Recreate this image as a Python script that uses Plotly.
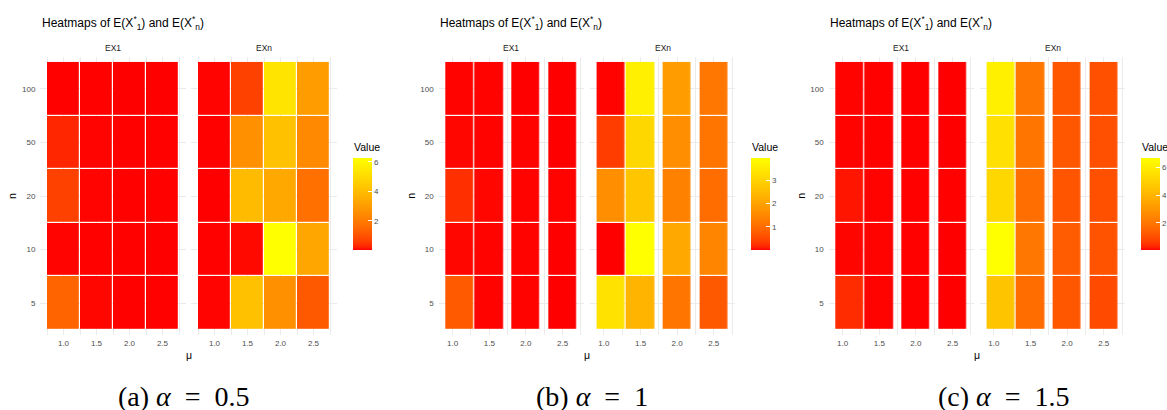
import numpy as np
import plotly.graph_objects as go

# ---------------- data ----------------
n_labels = ["5", "10", "20", "50", "100"]          # rows, bottom -> top
mu_a = [1.0, 1.5, 2.0, 2.5]                         # panel (a)
mu_b = [1.1, 1.5, 2.0, 2.5]                         # panel (b)
mu_c = [1.1, 1.5, 2.0, 2.5]                         # panel (c)
x_tick_vals = [1.0, 1.5, 2.0, 2.5]
x_tick_text = ["1.0", "1.5", "2.0", "2.5"]
facets = ["EX1", "EXn"]
captions = ["(a) <i>α</i>\u2002=\u20020.5", "(b) <i>α</i>\u2002=\u20021", "(c) <i>α</i>\u2002=\u20021.5"]

# rows: n = 5, 10, 20, 50, 100 ; columns: mu
EX1_a = [[1.40, 0.06, 0.04, 0.04],
         [0.05, 0.04, 0.04, 0.03],
         [0.65, 0.05, 0.04, 0.04],
         [0.28, 0.05, 0.04, 0.04],
         [0.04, 0.04, 0.03, 0.03]]
EXn_a = [[0.05, 4.15, 2.65, 1.15],
         [0.04, 0.08, 6.27, 3.34],
         [0.03, 3.96, 3.40, 1.70],
         [0.04, 2.65, 4.15, 2.40],
         [0.05, 0.65, 5.33, 2.99]]

EX1_b = [[0.73, 0.02, 0.02, 0.01],
         [0.03, 0.02, 0.02, 0.01],
         [0.23, 0.03, 0.02, 0.02],
         [0.03, 0.02, 0.02, 0.01],
         [0.02, 0.02, 0.01, 0.01]]
EXn_b = [[3.32, 2.36, 1.16, 0.72],
         [0.01, 3.95, 2.12, 1.44],
         [1.60, 2.72, 1.36, 1.00],
         [0.36, 3.08, 1.60, 1.16],
         [0.02, 3.60, 1.90, 1.20]]

EX1_c = [[0.35, 0.04, 0.03, 0.02],
         [0.05, 0.04, 0.03, 0.02],
         [0.14, 0.04, 0.03, 0.03],
         [0.04, 0.03, 0.03, 0.02],
         [0.04, 0.03, 0.02, 0.02]]
EXn_c = [[4.56, 1.68, 1.15, 0.87],
         [6.70, 2.00, 1.27, 1.07],
         [5.23, 1.74, 1.12, 1.00],
         [5.56, 1.95, 1.15, 0.97],
         [6.16, 2.00, 1.15, 1.00]]

# ---------------- styling helpers ----------------
W, H = 1167, 410


def srgb_to_lab(c):
    c = np.array(c, float) / 255.0
    lin = np.where(c <= 0.04045, c / 12.92, ((c + 0.055) / 1.055) ** 2.4)
    M = np.array([[0.4124, 0.3576, 0.1805], [0.2126, 0.7152, 0.0722], [0.0193, 0.1192, 0.9505]])
    X, Y, Z = M @ lin
    X /= 0.95047; Z /= 1.08883
    f = lambda t: t ** (1 / 3) if t > 0.008856 else 7.787 * t + 16 / 116
    fx, fy, fz = f(X), f(Y), f(Z)
    return np.array([116 * fy - 16, 500 * (fx - fy), 200 * (fy - fz)])


def lab_to_srgb(lab):
    L, a, b = lab
    fy = (L + 16) / 116; fx = fy + a / 500; fz = fy - b / 200
    finv = lambda t: t ** 3 if t ** 3 > 0.008856 else (t - 16 / 116) / 7.787
    X, Y, Z = 0.95047 * finv(fx), finv(fy), 1.08883 * finv(fz)
    Minv = np.array([[3.2406, -1.5372, -0.4986], [-0.9689, 1.8758, 0.0415], [0.0557, -0.2040, 1.0570]])
    lin = np.clip(Minv @ np.array([X, Y, Z]), 0, 1)
    c = np.where(lin <= 0.0031308, 12.92 * lin, 1.055 * lin ** (1 / 2.4) - 0.055)
    c = np.clip(np.round(c * 255), 0, 255).astype(int)
    return "rgb(%d,%d,%d)" % tuple(c)


lo_lab, hi_lab = srgb_to_lab((255, 0, 0)), srgb_to_lab((255, 255, 0))
colorscale = [[t, lab_to_srgb(lo_lab + t * (hi_lab - lo_lab))] for t in np.linspace(0, 1, 41)]


def tile_grid(mu, rows):
    w = float(np.min(np.diff(sorted(mu))))
    edges, cols = [], []
    for i, m in enumerate(mu):
        lo, hi = m - w / 2, m + w / 2
        if not edges:
            edges.append(lo)
        elif abs(edges[-1] - lo) > 1e-9:
            cols.append(None)
            edges.append(lo)
        cols.append(i)
        edges.append(hi)
    z = [[(r[c] if c is not None else None) for c in cols] for r in rows]
    return edges, z


GRID = "#EBEBEB"
SANS = "Liberation Sans"
SERIF = "Liberation Serif"
TICK = "#4D4D4D"

panels = [
    dict(mu=mu_a, d1=EX1_a, dn=EXn_a, px1=(40.4, 185.6), pxn=(191.4, 336.6), left=40, cb=353, dt=2,
         ytitle=12, cap=184),
    dict(mu=mu_b, d1=EX1_b, dn=EXn_b, px1=(438.7, 583.8), pxn=(590.0, 735.0), left=438, cb=751, dt=1,
         ytitle=410.7, cap=592),
    dict(mu=mu_c, d1=EX1_c, dn=EXn_c, px1=(828.7, 973.8), pxn=(980.0, 1125.0), left=828, cb=1141, dt=2,
         ytitle=800.7, cap=1004),
]

ytop, ybot = 56.6, 335.4
ydom = [1 - ybot / H, 1 - ytop / H]

fig = go.Figure()
layout = dict(width=W, height=H, margin=dict(l=0, r=0, t=0, b=0, autoexpand=False),
              paper_bgcolor="white", plot_bgcolor="white", showlegend=False,
              font=dict(family=SANS, color="#1A1A1A"))
annotations = []
ax = 0
for pi, p in enumerate(panels):
    ca = "coloraxis" if pi == 0 else "coloraxis%d" % (pi + 1)
    allv = np.array(p["d1"] + p["dn"], float)
    vmin, vmax = float(allv.min()), float(allv.max())
    layout[ca] = dict(
        colorscale=colorscale, cmin=vmin, cmax=vmax,
        colorbar=dict(x=p["cb"] / W, xanchor="left", y=1 - 204 / H, yanchor="middle",
                      len=92, lenmode="pixels", thickness=19, thicknessmode="pixels",
                      xpad=0, ypad=0, outlinewidth=0, tickmode="linear", tick0=0, dtick=p["dt"],
                      ticks="inside", ticklen=4, tickcolor="white", tickwidth=1,
                      tickfont=dict(size=8, color=TICK, family=SANS)))
    for fi, (data, pxr) in enumerate([(p["d1"], p["px1"]), (p["dn"], p["pxn"])]):
        ax += 1
        xs = "x" if ax == 1 else "x%d" % ax
        ys = "y" if ax == 1 else "y%d" % ax
        edges, z = tile_grid(p["mu"], data)
        fig.add_trace(go.Heatmap(x=edges, y=n_labels, z=z, coloraxis=ca, xgap=1.2, ygap=1.2,
                                 xaxis=xs, yaxis=ys, hoverongaps=False))
        e0, e1 = edges[0], edges[-1]
        pad = 0.05 * (e1 - e0)
        xrng = [e0 - pad, e1 + pad]
        minor_vals = [v + 0.25 for v in [0.5] + x_tick_vals]
        layout["xaxis" if ax == 1 else "xaxis%d" % ax] = dict(
            domain=[pxr[0] / W, pxr[1] / W], range=xrng, anchor=ys,
            showgrid=True, gridcolor=GRID, gridwidth=1, zeroline=False, showline=False,
            ticks="", tickmode="array", tickvals=x_tick_vals, ticktext=x_tick_text,
            tickfont=dict(size=8, color=TICK, family=SANS), ticklabelstandoff=2,
            minor=dict(tickmode="array", tickvals=minor_vals, showgrid=True, gridcolor=GRID, gridwidth=0.7))
        layout["yaxis" if ax == 1 else "yaxis%d" % ax] = dict(
            domain=ydom, anchor=xs, type="category", categoryorder="array", categoryarray=n_labels,
            range=[-0.6, len(n_labels) - 0.4], showgrid=True, gridcolor=GRID, gridwidth=1,
            zeroline=False, showline=False, ticks="", showticklabels=(fi == 0),
            tickfont=dict(size=8, color=TICK, family=SANS), ticklabelstandoff=4)
        annotations.append(dict(text=facets[fi], x=(pxr[0] + pxr[1]) / 2 / W, y=1 - 47.5 / H,
                                xref="paper", yref="paper", showarrow=False, xanchor="center",
                                yanchor="middle", font=dict(size=8.5, color="#1A1A1A", family=SANS)))
    # titles & labels
    annotations.append(dict(text="Heatmaps of E(X<sup>*</sup><sub>1</sub>) and E(X<sup>*</sup><sub>n</sub>)",
                            x=p["left"] / W, y=1 - 22.5 / H, xref="paper", yref="paper", showarrow=False,
                            xanchor="left", yanchor="middle", font=dict(size=12, color="black", family=SANS)))
    annotations.append(dict(text="n", x=p["ytitle"] / W, y=1 - 196 / H, xref="paper", yref="paper",
                            showarrow=False, textangle=-90, xanchor="center", yanchor="middle",
                            font=dict(size=10.5, color="black", family=SANS)))
    annotations.append(dict(text="μ", x=(p["px1"][0] + p["pxn"][1]) / 2 / W, y=1 - 355 / H,
                            xref="paper", yref="paper", showarrow=False, xanchor="center",
                            yanchor="middle", font=dict(size=10.5, color="black", family=SANS)))
    annotations.append(dict(text="Value", x=p["cb"] / W, y=1 - 147 / H, xref="paper", yref="paper",
                            showarrow=False, xanchor="left", yanchor="middle", xshift=-1,
                            font=dict(size=10.5, color="black", family=SANS)))
    annotations.append(dict(text=captions[pi], x=p["cap"] / W, y=1 - 396 / H, xref="paper",
                            yref="paper", showarrow=False, xanchor="center", yanchor="middle",
                            font=dict(size=28, color="black", family=SERIF)))

layout["annotations"] = annotations
fig.update_layout(**layout)
fig.write_html("out.html")
